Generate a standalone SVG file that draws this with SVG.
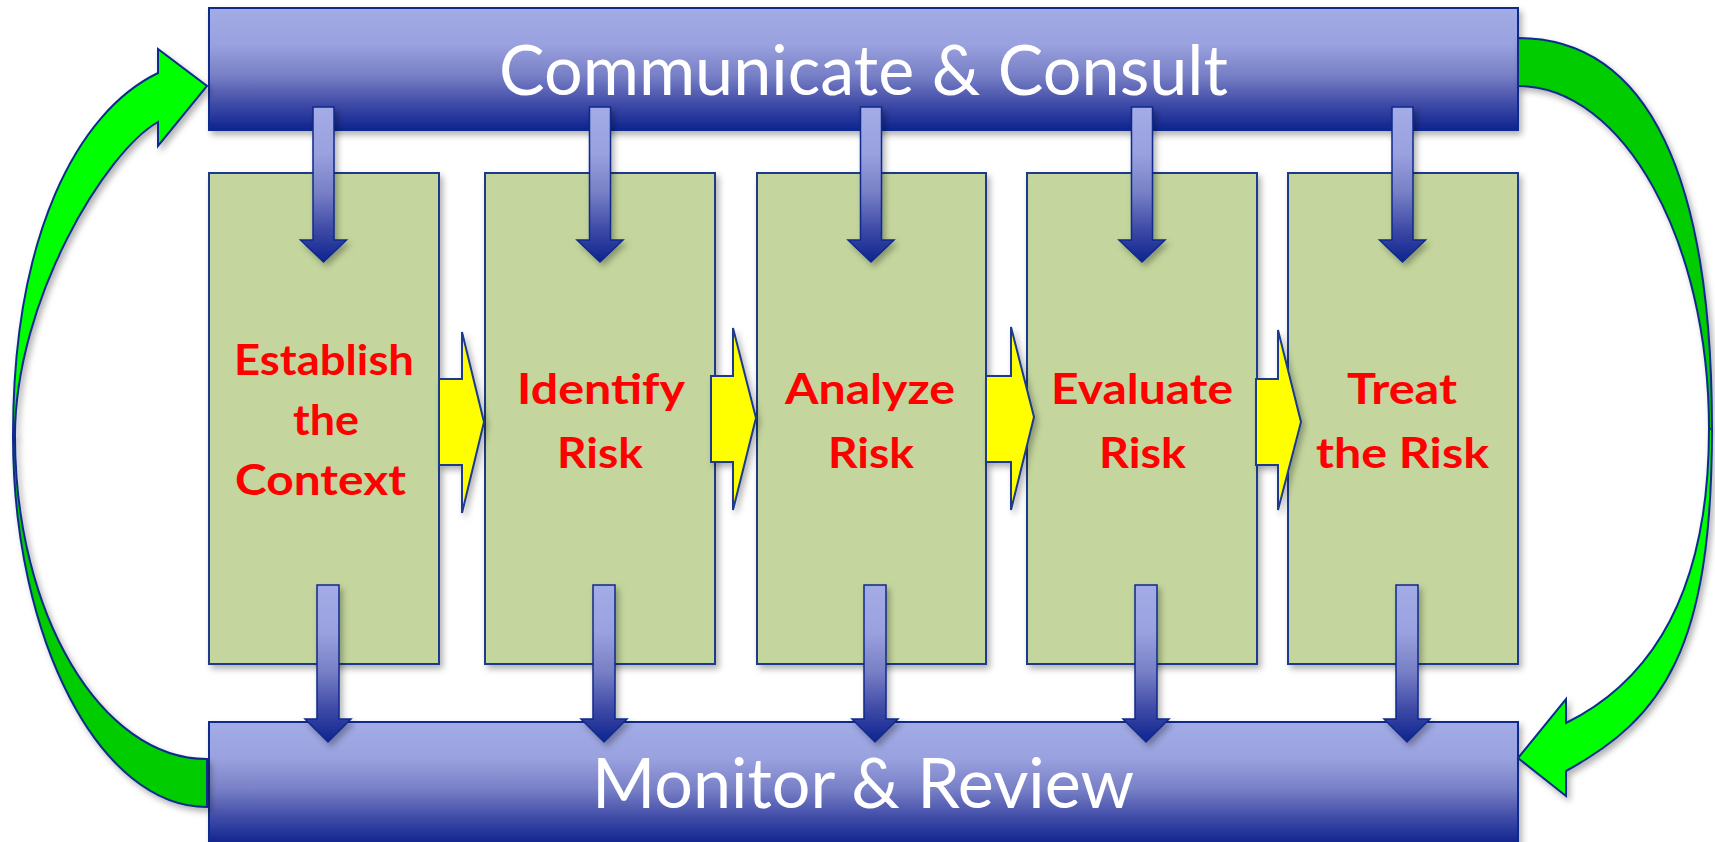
<svg xmlns="http://www.w3.org/2000/svg" width="1715" height="842" viewBox="0 0 1715 842">
  <defs>
    <linearGradient id="blueGrad" x1="0" y1="0" x2="0" y2="1">
      <stop offset="0" stop-color="#A3ACE6"/>
      <stop offset="0.3" stop-color="#99A1DF"/>
      <stop offset="0.55" stop-color="#7880C6"/>
      <stop offset="0.8" stop-color="#3C48A5"/>
      <stop offset="1" stop-color="#0E248F"/>
    </linearGradient>
    <filter id="sh" x="-20%" y="-20%" width="140%" height="140%">
      <feDropShadow dx="3" dy="4" stdDeviation="3" flood-color="#000" flood-opacity="0.3"/>
    </filter>
    <style>
      .bar { fill: url(#blueGrad); stroke: #0E2A8C; stroke-width: 2; filter: url(#sh); }
      .box { fill: #C4D69D; stroke: #1B3A8C; stroke-width: 2; filter: url(#sh); }
      .bartxt { font-family: Lato, "Open Sans", sans-serif; font-size: 70px; fill: #FFFFFF; }
      .boxtxt { font-family: Lato, "Open Sans", sans-serif; font-size: 42px; font-weight: bold; fill: #FF0000; }
      .down { fill: url(#blueGrad); stroke: #0E2A8C; stroke-width: 1.5; filter: url(#sh); }
      .yel { fill: #FFFF00; stroke: #1B3A8C; stroke-width: 2; filter: url(#sh); }
      .gb { fill: #00FF00; stroke: #0D2B8C; stroke-width: 2; filter: url(#sh); }
      .gd { fill: #00CC00; stroke: #0D2B8C; stroke-width: 2; filter: url(#sh); }
    </style>
  </defs>

  <g id="communicate">
    <rect class="bar" x="209" y="8" width="1309" height="122"/>
    <text class="bartxt" x="499" y="95" textLength="729" lengthAdjust="spacingAndGlyphs">Communicate &amp; Consult</text>
  </g>
  <g id="monitor">
    <rect class="bar" x="209" y="722" width="1309" height="122"/>
    <text class="bartxt" x="592" y="808" textLength="542" lengthAdjust="spacingAndGlyphs">Monitor &amp; Review</text>
  </g>

  <g id="establish">
    <rect class="box" x="209" y="173" width="230" height="491"/>
    <text class="boxtxt" x="234" y="375" textLength="180" lengthAdjust="spacingAndGlyphs">Establish</text>
    <text class="boxtxt" x="293" y="435" textLength="66" lengthAdjust="spacingAndGlyphs">the</text>
    <text class="boxtxt" x="235" y="495" textLength="171" lengthAdjust="spacingAndGlyphs">Context</text>
  </g>
  <g id="identify">
    <rect class="box" x="485" y="173" width="230" height="491"/>
    <text class="boxtxt" x="517" y="404" textLength="168" lengthAdjust="spacingAndGlyphs">Identify</text>
    <text class="boxtxt" x="557" y="468" textLength="86" lengthAdjust="spacingAndGlyphs">Risk</text>
  </g>
  <g id="analyze">
    <rect class="box" x="757" y="173" width="229" height="491"/>
    <text class="boxtxt" x="785" y="404" textLength="170" lengthAdjust="spacingAndGlyphs">Analyze</text>
    <text class="boxtxt" x="828" y="468" textLength="86" lengthAdjust="spacingAndGlyphs">Risk</text>
  </g>
  <g id="evaluate">
    <rect class="box" x="1027" y="173" width="230" height="491"/>
    <text class="boxtxt" x="1051" y="404" textLength="182" lengthAdjust="spacingAndGlyphs">Evaluate</text>
    <text class="boxtxt" x="1099" y="468" textLength="87" lengthAdjust="spacingAndGlyphs">Risk</text>
  </g>
  <g id="treat">
    <rect class="box" x="1288" y="173" width="230" height="491"/>
    <text class="boxtxt" x="1347" y="404" textLength="110" lengthAdjust="spacingAndGlyphs">Treat</text>
    <text class="boxtxt" x="1316" y="468" textLength="173" lengthAdjust="spacingAndGlyphs">the Risk</text>
  </g>

  <g id="connectors">
    <!-- green loop arrows -->
    <path class="gd" d="M207,807 C100,807 13,640 13,436 L15,436 C15,614 101,759 207,759 Z"/>
    <path class="gb" d="M13,436 C13,236 77,112 158,73 L158,49 L207,86 L158,146 L158,122 C106,151 15,300 15,436 Z"/>
    <path class="gd" d="M1518,38 C1650,38 1712,180 1712,429 L1709,429 C1709,240 1623,86 1518,86 Z"/>
    <path class="gb" d="M1712,429 C1712,649 1663,718 1566,771 L1566,796 L1518,758 L1566,699 L1566,723 C1647,683 1709,599 1709,429 Z"/>

    <!-- yellow process arrows -->
    <path class="yel" d="M439,379 H462 V332 L484,422 L462,513 V465 H439 Z"/>
    <path class="yel" d="M711,376 H733 V328 L756,418 L733,510 V462 H711 Z"/>
    <path class="yel" d="M986,376 H1011 V327 L1034,417 L1011,510 V462 H986 Z"/>
    <path class="yel" d="M1256,379 H1278 V330 L1301,422 L1278,510 V465 H1256 Z"/>

    <!-- down arrows from Communicate & Consult -->
    <path class="down" d="M313,107 H334 V240 H346.5 L323.5,262 L300.5,240 H313 Z"/>
    <path class="down" d="M589.5,107 H610.5 V240 H623 L600,262 L577,240 H589.5 Z"/>
    <path class="down" d="M860.5,107 H881.5 V240 H894 L871,262 L848,240 H860.5 Z"/>
    <path class="down" d="M1131.5,107 H1152.5 V240 H1165 L1142,262 L1119,240 H1131.5 Z"/>
    <path class="down" d="M1392,107 H1413 V240 H1425.5 L1402.5,262 L1379.5,240 H1392 Z"/>

    <!-- down arrows to Monitor & Review -->
    <path class="down" d="M317,585 H339 V719 H351 L328,742 L305,719 H317 Z"/>
    <path class="down" d="M593,585 H615 V719 H627 L604,742 L581,719 H593 Z"/>
    <path class="down" d="M864,585 H886 V719 H898 L875,742 L852,719 H864 Z"/>
    <path class="down" d="M1135,585 H1157 V719 H1169 L1146,742 L1123,719 H1135 Z"/>
    <path class="down" d="M1396,585 H1418 V719 H1430 L1407,742 L1384,719 H1396 Z"/>
  </g>
</svg>
